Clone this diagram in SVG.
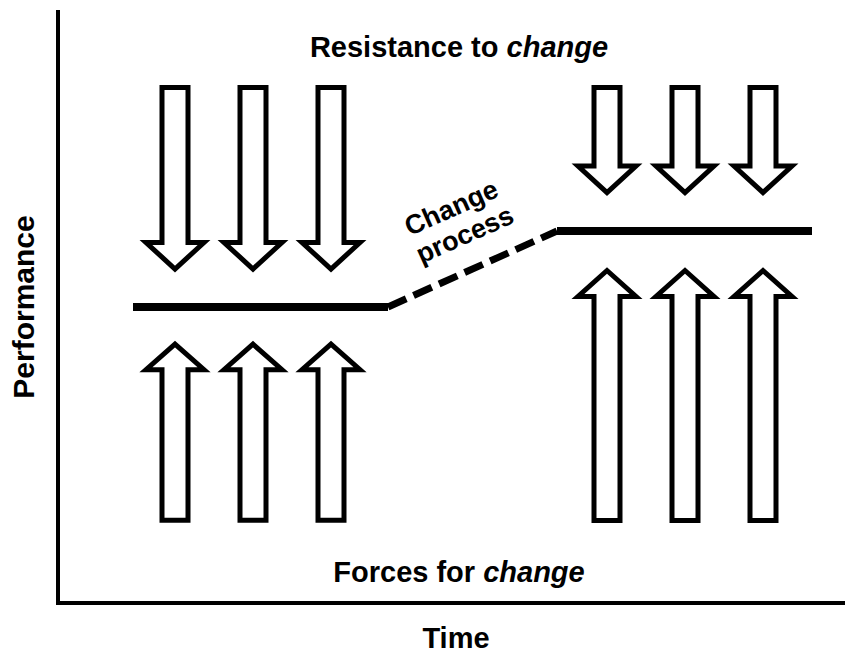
<svg xmlns="http://www.w3.org/2000/svg" width="845" height="655" viewBox="0 0 845 655">
  <style>
    .bg { fill: #ffffff; }
    .axis { fill: none; stroke: #000; stroke-width: 4; }
    .level { fill: none; stroke: #000; stroke-width: 8; }
    .trend { fill: none; stroke: #000; stroke-width: 7; stroke-dasharray: 20 8; }
    .arrow { fill: #fff; stroke: #000; stroke-width: 5; stroke-linejoin: miter; stroke-miterlimit: 10; }
    .label { font-family: "Liberation Sans", Arial, sans-serif; font-weight: bold; font-size: 29px; fill: #000; }
    .em { font-style: italic; }
    .tilt { font-family: "Liberation Sans", Arial, sans-serif; font-weight: bold; font-size: 27px; fill: #000; }
  </style>
  <defs>
    <!-- downward block arrow, tip at local (0,0) -->
    <path id="down-short" d="M -13 -105 L 13 -105 L 13 -26.5 L 29 -26.5 L 0 0 L -29 -26.5 L -13 -26.5 Z"/>
    <path id="down-long" d="M -13 -181.5 L 13 -181.5 L 13 -26.5 L 29 -26.5 L 0 0 L -29 -26.5 L -13 -26.5 Z"/>
    <!-- upward block arrow, tip at local (0,0) -->
    <path id="up-short" d="M -13 176 L 13 176 L 13 25.5 L 29 25.5 L 0 0 L -29 25.5 L -13 25.5 Z"/>
    <path id="up-long" d="M -13 250 L 13 250 L 13 26 L 29 26 L 0 0 L -29 26 L -13 26 Z"/>
  </defs>

  <rect class="bg" x="0" y="0" width="845" height="655"/>

  <!-- axes -->
  <g id="axes">
    <path class="axis" d="M 58 10 L 58 603 L 845 603"/>
    <text class="label" x="456" y="648" text-anchor="middle">Time</text>
    <text class="label" transform="translate(33.5 307) rotate(-90)" text-anchor="middle" style="font-size:30px">Performance</text>
  </g>

  <!-- performance levels and the transition between them -->
  <g id="connectors">
    <line class="level" x1="133" y1="307" x2="388" y2="307"/>
    <line class="trend" x1="388" y1="307" x2="557" y2="231"/>
    <line class="level" x1="557" y1="231" x2="812" y2="231"/>
  </g>

  <g id="change-process">
    <text class="tilt" transform="translate(455 216) rotate(-24)" text-anchor="middle">Change</text>
    <text class="tilt" transform="translate(468.5 243) rotate(-24)" text-anchor="middle">process</text>
  </g>

  <!-- restraining forces pushing down -->
  <g id="resistance-before">
    <use href="#down-long" class="arrow" x="175" y="269"/>
    <use href="#down-long" class="arrow" x="253" y="269"/>
    <use href="#down-long" class="arrow" x="331" y="269"/>
  </g>
  <g id="resistance-after">
    <use href="#down-short" class="arrow" x="607" y="192.5"/>
    <use href="#down-short" class="arrow" x="685" y="192.5"/>
    <use href="#down-short" class="arrow" x="763" y="192.5"/>
  </g>

  <!-- driving forces pushing up -->
  <g id="forces-before">
    <use href="#up-short" class="arrow" x="175" y="344.2"/>
    <use href="#up-short" class="arrow" x="253" y="344.2"/>
    <use href="#up-short" class="arrow" x="331" y="344.2"/>
  </g>
  <g id="forces-after">
    <use href="#up-long" class="arrow" x="607" y="270.5"/>
    <use href="#up-long" class="arrow" x="685" y="270.5"/>
    <use href="#up-long" class="arrow" x="763" y="270.5"/>
  </g>

  <g id="resistance-label">
    <text class="label" x="459" y="56.5" text-anchor="middle">Resistance to <tspan class="em">change</tspan></text>
  </g>
  <g id="forces-label">
    <text class="label" x="459" y="581.5" text-anchor="middle">Forces for <tspan class="em">change</tspan></text>
  </g>
</svg>
